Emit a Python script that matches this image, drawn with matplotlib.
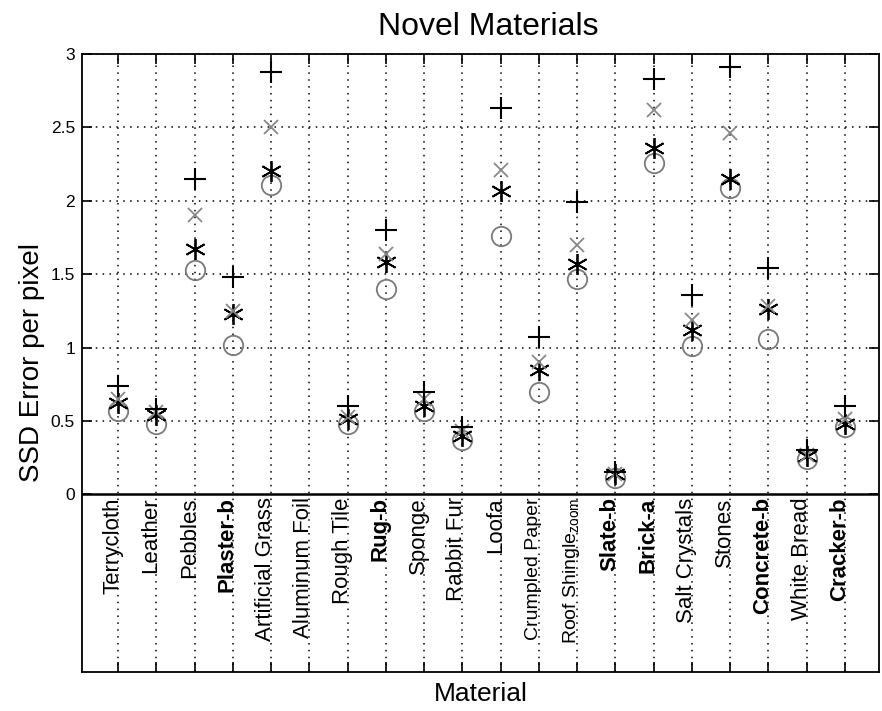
import matplotlib
matplotlib.use("Agg")
import numpy as np
import matplotlib.pyplot as plt

plt.rcParams['font.family'] = ['Liberation Sans', 'DejaVu Sans']
plt.rcParams['mathtext.fontset'] = 'custom'
plt.rcParams['mathtext.rm'] = 'Liberation Sans'

materials = ['Terrycloth', 'Leather', 'Pebbles', 'Plaster-b', 'Artificial Grass',
             'Aluminum Foil', 'Rough Tile', 'Rug-b', 'Sponge', 'Rabbit Fur', 'Loofa',
             'Crumpled Paper', r'Roof Shingle$_{\mathrm{zoom}}$', 'Slate-b', 'Brick-a',
             'Salt Crystals', 'Stones', 'Concrete-b', 'White Bread', 'Cracker-b']
bold_labels = ['Plaster-b', 'Rug-b', 'Slate-b', 'Brick-a', 'Concrete-b', 'Cracker-b']
small_labels = ['Crumpled Paper', r'Roof Shingle$_{\mathrm{zoom}}$']

plus_vals = [0.74, 0.58, 2.15, 1.48, 2.88, np.nan, 0.60, 1.80, 0.70, 0.46, 2.63,
             1.07, 1.99, 0.15, 2.83, 1.36, 2.91, 1.54, 0.30, 0.60]
cross_vals = [0.65, 0.56, 1.90, 1.25, 2.50, np.nan, 0.53, 1.64, 0.65, 0.43, 2.21,
              0.90, 1.70, 0.14, 2.62, 1.19, 2.46, 1.28, 0.27, 0.51]
star_vals = [0.62, 0.54, 1.67, 1.23, 2.20, np.nan, 0.51, 1.58, 0.60, 0.40, 2.07,
             0.85, 1.57, 0.14, 2.36, 1.12, 2.15, 1.26, 0.26, 0.48]
circle_vals = [0.57, 0.48, 1.53, 1.02, 2.11, np.nan, 0.48, 1.40, 0.57, 0.37, 1.76,
               0.70, 1.47, 0.11, 2.26, 1.01, 2.09, 1.06, 0.24, 0.46]

x = np.arange(1, len(materials) + 1)

fig = plt.figure(figsize=(8.82, 7.11), dpi=100)
ax = fig.add_axes([0.093, 0.055, 0.904, 0.869])

gs = (0, (1, 3.5))
for xi in x:
  ax.axvline(xi, color='k', linestyle=gs, linewidth=1.1, zorder=1)
for yi in np.arange(0.5, 3.01, 0.5):
  ax.axhline(yi, color='k', linestyle=gs, linewidth=1.1, zorder=1)
ax.axhline(0, color='k', linewidth=1.8, zorder=2)

ax.plot(x, circle_vals, 'o', markersize=14, markerfacecolor='none',
        markeredgecolor='#7a7a7a', markeredgewidth=1.3, zorder=3)
ax.plot(x, star_vals, marker=(6, 2, 0), linestyle='none', markersize=15,
        color='k', markeredgewidth=1.3, zorder=4)
ax.plot(x, cross_vals, 'x', markersize=10, color='#888888',
        markeredgewidth=1.3, zorder=4)
ax.plot(x, plus_vals, '+', markersize=16, color='k',
        markeredgewidth=1.5, zorder=5)

for xi, name in zip(x, materials):
  fs = 16
  fw = 'normal'
  if name in small_labels:
    fs = 14
  if name in bold_labels:
    fw = 'bold'
  ax.text(xi - 0.14, -0.02, name, rotation=90, ha='center', va='top',
          fontsize=fs, fontweight=fw, zorder=6)

ax.set_xlim(0.06, 20.9)
ax.set_ylim(-1.21, 3)
ax.set_xticks(x)
ax.set_xticklabels([])
ax.set_yticks(np.arange(0, 3.01, 0.5))
ax.set_yticklabels(['0', '0.5', '1', '1.5', '2', '2.5', '3'], fontsize=12.5)
ax.tick_params(direction='in', length=7, width=1.2, top=True, right=True, pad=5)
for sp in ax.spines.values():
  sp.set_linewidth(1.3)

ax.set_title('Novel Materials', fontsize=23, pad=14, x=0.51)
ax.set_ylabel('SSD Error per pixel', fontsize=20, labelpad=4)
ax.set_xlabel('Material', fontsize=19, labelpad=2)

fig.savefig('out.png', dpi=100)
